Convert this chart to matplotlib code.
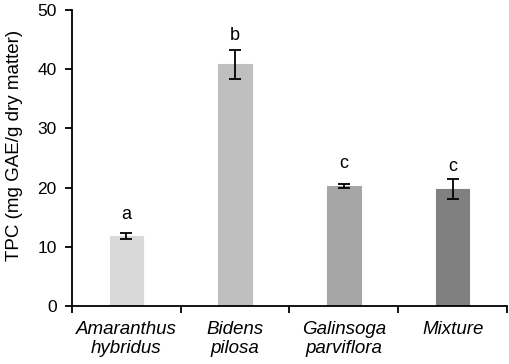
import matplotlib
matplotlib.use("Agg")
import matplotlib.pyplot as plt
import numpy as np

categories = ["Amaranthus\nhybridus", "Bidens\npilosa", "Galinsoga\nparviflora", "Mixture"]
values = [11.8, 40.8, 20.3, 19.8]
errors = [0.45, 2.4, 0.3, 1.7]
letters = ["a", "b", "c", "c"]
letter_y = [14.0, 44.2, 22.6, 22.1]
colors = ["#d9d9d9", "#bfbfbf", "#a6a6a6", "#808080"]

plt.rcParams['font.family'] = ['Liberation Sans', 'DejaVu Sans']

fig = plt.figure(figsize=(5.10, 3.64), dpi=100)
ax = fig.add_axes([72/510, 1 - 306/364, 435/510, 296/364])

x = np.arange(len(categories))
ax.bar(x, values, width=0.31, color=colors, edgecolor=colors, linewidth=0.8, zorder=2)
ax.errorbar(x, values, yerr=errors, fmt='none', ecolor='black', elinewidth=1.3,
            capsize=4, capthick=1.3, zorder=3)
for xi, ly, l in zip(x, letter_y, letters):
    ax.text(xi, ly, l, ha='center', va='bottom', fontsize=13)

ax.set_xlim(-0.5, len(categories) - 0.5)
ax.set_ylim(0, 50)
ax.set_yticks(range(0, 51, 10))
ax.set_xticks(x)
ax.set_xticklabels(categories, fontsize=13.5, style='italic', linespacing=1.17)
ax.set_xticks(np.arange(-0.5, len(categories), 1.0), minor=True)
ax.tick_params(axis='x', which='major', length=0, pad=11)
ax.tick_params(axis='x', which='minor', length=5, width=1.3, direction='out')
ax.tick_params(axis='y', length=5, width=1.3, direction='out', labelsize=12.5, pad=6)
ax.set_ylabel("TPC (mg GAE/g dry matter)", fontsize=13.5)
ax.yaxis.set_label_coords(-0.113, 0.544)
ax.spines['top'].set_visible(False)
ax.spines['right'].set_visible(False)
ax.spines['left'].set_linewidth(1.3)
ax.spines['bottom'].set_linewidth(1.3)

fig.savefig("out.png", dpi=100)
